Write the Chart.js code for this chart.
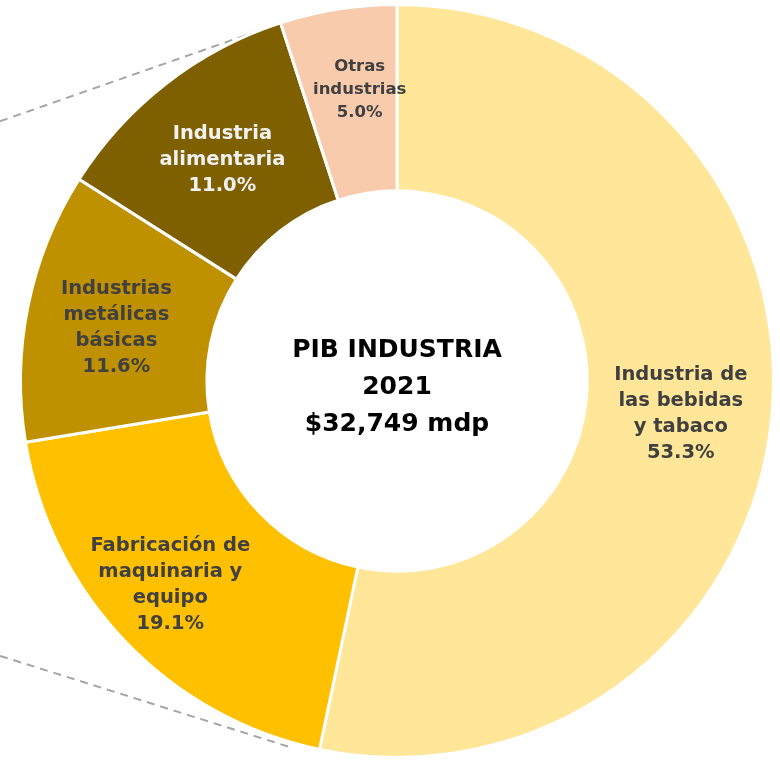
<!DOCTYPE html>
<html lang="es">
<head>
<meta charset="utf-8"/>
<title>PIB Industria 2021</title>
<script src="https://cdn.jsdelivr.net/npm/chart.js@4.4.0/dist/chart.umd.min.js"></script>
<style>
  html, body { margin: 0; padding: 0; background: #ffffff; }
  .wrap { position: relative; width: 780px; height: 762px; }
</style>
</head>
<body>
<div class="wrap"><canvas id="pib"></canvas></div>
<script>
// datos del PIB por rama industrial, 2021 (%)
const ramas = [
  ['Industria de', 'las bebidas', 'y tabaco'],
  ['Fabricación de', 'maquinaria y', 'equipo'],
  ['Industrias', 'metálicas', 'básicas'],
  ['Industria', 'alimentaria'],
  ['Otras', 'industrias']
];
const porcentajes = [53.3, 19.1, 11.6, 11.0, 5.0];
const colores = ['#FFE699', '#FFC000', '#BF9000', '#7F6000', '#F8CBAD'];
const coloresTexto = ['#404040', '#404040', '#404040', '#F2F2F2', '#404040'];
const centro = ['PIB INDUSTRIA', '2021', '$32,749 mdp'];

const FONT = '"DejaVu Sans", "Open Sans", sans-serif';

// etiquetas dentro de cada sector
const etiquetas = {
  id: 'etiquetas',
  afterDatasetsDraw(chart) {
    const ctx = chart.ctx;
    const meta = chart.getDatasetMeta(0);
    const ajustes = [[2, 4], [-22, 8], [-3, 4], [-1, 3], [7, -11]];
    ctx.save();
    ctx.textAlign = 'center';
    ctx.textBaseline = 'middle';
    meta.data.forEach((arc, i) => {
      const p = arc.tooltipPosition();
      const lineas = ramas[i].concat([porcentajes[i].toFixed(1) + '%']);
      const size = i === 4 ? 16.5 : 19.5;
      const lh = i === 4 ? 23 : 26;
      ctx.font = 'bold ' + size + 'px ' + FONT;
      ctx.fillStyle = coloresTexto[i];
      const x = p.x + ajustes[i][0];
      const y0 = p.y + ajustes[i][1] - (lineas.length - 1) * lh / 2;
      lineas.forEach((t, k) => ctx.fillText(t, x, y0 + k * lh));
    });
    // texto central
    const c = meta.data[0];
    ctx.fillStyle = '#000000';
    ctx.font = 'bold 25px ' + FONT;
    centro.forEach((t, k) => ctx.fillText(t, c.x, c.y - 31 + k * 37));
    ctx.restore();
  }
};

// líneas punteadas que unen con la gráfica anterior
const conectores = {
  id: 'conectores',
  beforeDatasetsDraw(chart) {
    const ctx = chart.ctx;
    const c = chart.getDatasetMeta(0).data[0];
    const r = c.outerRadius;
    const a1 = -21.5 * Math.PI / 180, a2 = 195.8 * Math.PI / 180;
    ctx.save();
    ctx.strokeStyle = '#A6A6A6';
    ctx.lineWidth = 2;
    ctx.setLineDash([8, 6]);
    ctx.beginPath();
    ctx.moveTo(0, c.y - r * 0.69);
    ctx.lineTo(c.x + r * Math.sin(a1), c.y - r * Math.cos(a1));
    ctx.moveTo(0, c.y + r * 0.73);
    ctx.lineTo(c.x + (r + 5) * Math.sin(a2), c.y - (r + 5) * Math.cos(a2));
    ctx.stroke();
    ctx.restore();
  }
};

new Chart(document.getElementById('pib'), {
  type: 'doughnut',
  data: {
    labels: ramas.map(r => r.join(' ')),
    datasets: [{
      data: porcentajes,
      backgroundColor: colores,
      borderColor: '#ffffff',
      borderWidth: 3
    }]
  },
  options: {
    responsive: true,
    maintainAspectRatio: false,
    animation: false,
    cutout: '50.5%',
    layout: { padding: { left: 19, right: 5, top: 3, bottom: 3 } },
    plugins: {
      legend: { display: false },
      tooltip: { enabled: false }
    }
  },
  plugins: [conectores, etiquetas]
});
</script>
</body>
</html>
